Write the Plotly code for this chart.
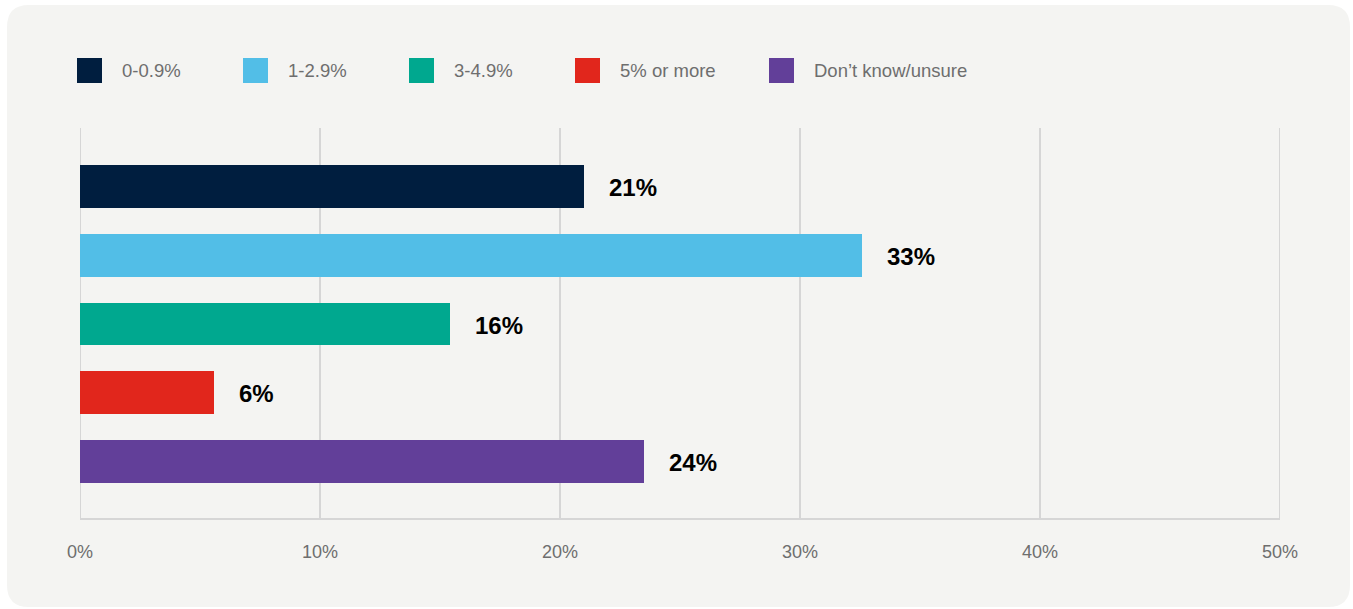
import plotly.graph_objects as go

categories = ["0-0.9%", "1-2.9%", "3-4.9%", "5% or more", "Don\u2019t know/unsure"]
values = [21.0, 32.6, 15.4, 5.6, 23.5]
labels = ["21%", "33%", "16%", "6%", "24%"]
colors = ["#001e3f", "#52bee7", "#00a88f", "#e1261c", "#623f99"]
x_ticks = [0, 10, 20, 30, 40, 50]
x_tick_labels = ["0%", "10%", "20%", "30%", "40%", "50%"]

W, H = 1353, 609
L, R, T, B = 80, 1280, 128, 518
FONT = "Liberation Sans, Arial, sans-serif"
GRID = "#d6d6d6"


def px(p):
    return (p - L) / (R - L)


def py(q):
    return (B - q) / (B - T)


fig = go.Figure()
fig.add_trace(go.Bar(
    x=values, y=categories, orientation="h",
    marker=dict(color=colors, line=dict(width=0)),
    width=0.625, hoverinfo="skip", showlegend=False,
))

annotations = []
for c, v, lab in zip(categories, values, labels):
    annotations.append(dict(
        x=v, y=c, xref="x", yref="y", text=f"<b>{lab}</b>", showarrow=False,
        xanchor="left", yanchor="middle", xshift=23, yshift=-1,
        font=dict(family=FONT, size=24, color="#000000"),
    ))

# Rounded background panel
x0, x1, y0, y1, r = 7, 1350, 5, 607, 22
path = (
    f"M {px(x0 + r)},{py(y0)} L {px(x1 - r)},{py(y0)} "
    f"Q {px(x1)},{py(y0)} {px(x1)},{py(y0 + r)} "
    f"L {px(x1)},{py(y1 - r)} Q {px(x1)},{py(y1)} {px(x1 - r)},{py(y1)} "
    f"L {px(x0 + r)},{py(y1)} Q {px(x0)},{py(y1)} {px(x0)},{py(y1 - r)} "
    f"L {px(x0)},{py(y0 + r)} Q {px(x0)},{py(y0)} {px(x0 + r)},{py(y0)} Z"
)
shapes = [dict(type="path", path=path, xref="paper", yref="paper",
               fillcolor="#f4f4f2", line=dict(width=0), layer="below")]

# Edge gridlines (0% and 50%)
for xv in (x_ticks[0], x_ticks[-1]):
    shapes.append(dict(type="line", xref="x", yref="paper", x0=xv, x1=xv, y0=0, y1=1,
                       line=dict(color=GRID, width=2), layer="below"))

# Manual legend
legend_x = [77, 243, 409, 575, 769]
sw = 25
for lx, c, col in zip(legend_x, categories, colors):
    shapes.append(dict(type="rect", xref="paper", yref="paper",
                       x0=px(lx), x1=px(lx + sw), y0=py(58), y1=py(58 + sw),
                       fillcolor=col, line=dict(width=0)))
    annotations.append(dict(
        x=px(lx + 43), y=py(70), xref="paper", yref="paper", text=c,
        showarrow=False, xanchor="left", yanchor="middle",
        font=dict(family=FONT, size=18.5, color="#6e6e6e"),
    ))

fig.update_layout(
    width=W, height=H,
    margin=dict(l=L, r=W - R, t=T, b=H - B, pad=0),
    paper_bgcolor="#ffffff", plot_bgcolor="rgba(0,0,0,0)",
    shapes=shapes, annotations=annotations, showlegend=False,
    bargap=0,
    xaxis=dict(
        range=[0, 50], tickvals=x_ticks, ticktext=x_tick_labels,
        showgrid=True, gridcolor=GRID, gridwidth=2,
        zeroline=False, showline=True, linecolor=GRID, linewidth=2,
        ticks="outside", ticklen=16, tickcolor="rgba(0,0,0,0)",
        tickfont=dict(family=FONT, size=18, color="#6e6e6e"),
        fixedrange=True,
    ),
    yaxis=dict(
        type="category", categoryorder="array", categoryarray=categories,
        range=[4.822, -0.851], showticklabels=False, showgrid=False,
        zeroline=False, showline=False, ticks="", fixedrange=True,
    ),
)

fig.write_html("out.html", config={"displayModeBar": False})
